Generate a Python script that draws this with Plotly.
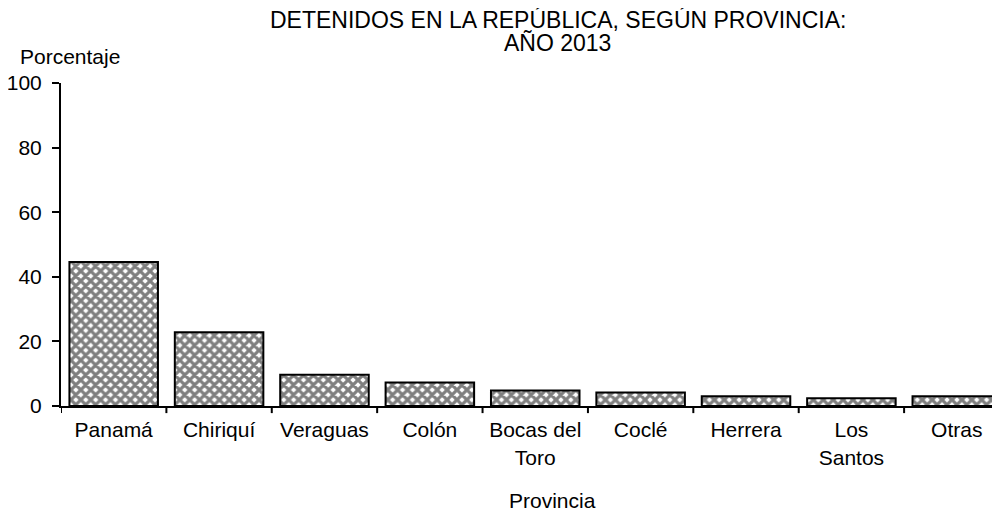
import plotly.graph_objects as go

categories = ["Panamá", "Chiriquí", "Veraguas", "Colón", "Bocas del<br>Toro", "Coclé", "Herrera", "Los<br>Santos", "Otras"]
values = [44.6, 22.8, 9.7, 7.3, 4.8, 4.2, 3.0, 2.4, 3.0]
y_ticks = [0, 20, 40, 60, 80, 100]
title_lines = ["DETENIDOS EN LA REPÚBLICA, SEGÚN PROVINCIA:", "AÑO 2013"]

FONT = "Liberation Sans, Arial, sans-serif"

fig = go.Figure(go.Bar(
    x=list(range(len(categories))),
    y=values,
    marker=dict(
        color="white",
        line=dict(color="black", width=2),
        pattern=dict(shape="x", fgcolor="black", bgcolor="white", size=7, solidity=0.7),
    ),
    width=0.84,
))

# page body has an 8px margin: figure is sized so the plot lands where the reference has it
fig.update_layout(
    width=992, height=507,
    margin=dict(l=53, r=0, t=75, b=109, autoexpand=False),
    paper_bgcolor="white", plot_bgcolor="white",
    showlegend=False,
    font=dict(family=FONT, size=21, color="black"),
    annotations=[
        dict(text=title_lines[0], xref="paper", yref="paper", x=0.529, y=1.0, xanchor="center",
             yanchor="middle", yshift=63, showarrow=False, font=dict(size=23)),
        dict(text=title_lines[1], xref="paper", yref="paper", x=0.529, y=1.0, xanchor="center",
             yanchor="middle", yshift=40, showarrow=False, font=dict(size=23)),
        dict(text="Porcentaje", xref="paper", yref="paper", x=-0.0458, y=1.0, xanchor="left",
             yanchor="middle", yshift=27, showarrow=False, font=dict(size=21)),
        dict(text="Provincia", xref="paper", yref="paper", x=0.523, y=0, xanchor="center",
             yanchor="middle", yshift=-94, showarrow=False, font=dict(size=21)),
    ],
)

fig.update_xaxes(
    tickmode="array", tickvals=list(range(len(categories))), ticktext=categories,
    range=[-0.5, 8.41], automargin=False,
    showline=True, linecolor="black", linewidth=2,
    ticks="", showgrid=False, zeroline=False,
    tickfont=dict(size=21), ticklabelstandoff=4,
)
fig.update_yaxes(
    range=[0, 100], tickvals=y_ticks, automargin=False,
    showline=True, linecolor="black", linewidth=2,
    ticks="outside", ticklen=7, tickcolor="black", tickwidth=2,
    showgrid=False, zeroline=False,
    tickfont=dict(size=21), ticklabelstandoff=6,
)

# category boundary ticks on x axis
for i in range(len(categories) + 1):
    fig.add_shape(type="line", xref="x", yref="paper", x0=i - 0.5, x1=i - 0.5, y0=0, y1=-0.022,
                  line=dict(color="black", width=2))

fig.write_html("out.html")
